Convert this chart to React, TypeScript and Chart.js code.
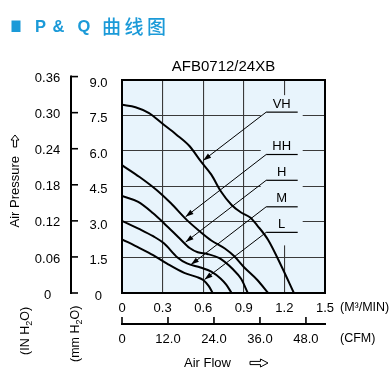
import React, { useEffect, useRef } from 'react';
import { Chart, registerables } from 'chart.js';

Chart.register(...registerables);

// ---- data ----
const flowTicks = [0, 0.3, 0.6, 0.9, 1.2, 1.5];
const pressureTicks = [0, 1.5, 3, 4.5, 6, 7.5, 9];
const inchTicks = [0, 0.06, 0.12, 0.18, 0.24, 0.3, 0.36];
const cfmTicks = [0, 12, 24, 36, 48];

const MM_PER_INCH = 25.4;
const CFM_PER_CMM = 35.3147;
const FLOW_MAX = 1.5;
const PRESSURE_MAX = 9;

const curveNames = ['VH', 'HH', 'H', 'M', 'L'];

const vhFlow = [0, 0.1, 0.2, 0.3, 0.4, 0.5, 0.58, 0.66, 0.73, 0.81, 0.88, 0.95, 1.0, 1.08, 1.18, 1.27];
const vhPressure = [7.95, 7.85, 7.6, 7.15, 6.7, 6.2, 5.58, 5.0, 4.3, 3.72, 3.4, 3.18, 2.85, 2.24, 1.11, 0];

const hhFlow = [0, 0.13, 0.26, 0.36, 0.48, 0.58, 0.66, 0.76, 0.83, 0.9, 1.0, 1.08];
const hhPressure = [5.4, 4.9, 4.33, 3.8, 3.08, 2.58, 2.22, 1.88, 1.55, 1.1, 0.55, 0];

const hFlow = [0, 0.12, 0.23, 0.31, 0.43, 0.5, 0.56, 0.63, 0.72, 0.82, 0.88, 0.93];
const hPressure = [4.1, 3.85, 3.37, 2.95, 2.28, 1.9, 1.72, 1.65, 1.47, 1.0, 0.6, 0];

const mFlow = [0, 0.13, 0.23, 0.31, 0.41, 0.48, 0.58, 0.66, 0.73, 0.77, 0.81];
const mPressure = [3.05, 2.7, 2.4, 2.1, 1.5, 1.25, 1.08, 0.9, 0.6, 0.35, 0];

const lFlow = [0, 0.13, 0.23, 0.33, 0.46, 0.55, 0.6, 0.64, 0.67];
const lPressure = [2.27, 1.9, 1.6, 1.25, 0.85, 0.68, 0.55, 0.3, 0];

const seriesFlow = [vhFlow, hhFlow, hFlow, mFlow, lFlow];
const seriesPressure = [vhPressure, hhPressure, hPressure, mPressure, lPressure];

// curve name labels and leader arrow targets (data units)
const labelFlow = 1.18;
const labelPressure = [7.98, 6.19, 5.1, 3.98, 2.9];
const arrowFlow = [0.6, 0.47, 0.47, 0.51, 0.61];
const arrowPressure = [5.6, 3.22, 2.15, 1.2, 0.57];

const headerTitle = ['P', '&', 'Q'];
const headerCjk = '曲线图';
const modelTitle = 'AFB0712/24XB';

// ---- styles ----
const FONT = '"Liberation Sans", Arial, Helvetica, sans-serif';
const PLOT_BG = '#e8f4fc';
const BLUE = '#1b9ad8';
const GRID = '#3a3a3a';

const fmt1 = (v: number) => (v === 0 ? '0' : v.toFixed(1));
const fmt2 = (v: number) => (v === 0 ? '0' : v.toFixed(2));

function hollowArrow(ctx: CanvasRenderingContext2D, len: number, h: number) {
  const head = len * 0.42;
  const sh = h * 0.2;
  ctx.beginPath();
  ctx.moveTo(0, -sh);
  ctx.lineTo(len - head, -sh);
  ctx.lineTo(len - head, -h / 2);
  ctx.lineTo(len, 0);
  ctx.lineTo(len - head, h / 2);
  ctx.lineTo(len - head, sh);
  ctx.lineTo(0, sh);
  ctx.closePath();
  ctx.fillStyle = '#fff';
  ctx.fill();
  ctx.lineWidth = 1;
  ctx.strokeStyle = '#000';
  ctx.stroke();
}

const extras = {
  id: 'extras',
  beforeDraw(chart: any) {
    const { ctx, chartArea: a } = chart;
    ctx.save();
    ctx.fillStyle = '#fff';
    ctx.fillRect(0, 0, chart.width, chart.height);
    ctx.fillStyle = PLOT_BG;
    ctx.fillRect(a.left, a.top, a.right - a.left, a.bottom - a.top);
    ctx.restore();
  },
  beforeDatasetsDraw(chart: any) {
    const { ctx, scales } = chart;
    const xs = scales.x;
    const ys = scales.y;
    const cx = xs.getPixelForValue(labelFlow);
    const top = ys.getPixelForValue(labelPressure[0]) - 9;
    const bottom = ys.getPixelForValue(labelPressure[labelPressure.length - 1]) + 21;
    ctx.save();
    ctx.fillStyle = PLOT_BG;
    ctx.fillRect(cx - 21, top, 42, bottom - top);
    ctx.restore();
  },
  afterDraw(chart: any) {
    const { ctx, chartArea: a, scales } = chart;
    const xs = scales.x;
    const ys = scales.y;
    const xc = scales.xCfm;
    ctx.save();

    // plot frame
    ctx.strokeStyle = '#000';
    ctx.lineWidth = 2;
    ctx.strokeRect(a.left, a.top, a.right - a.left, a.bottom - a.top);

    // curve labels with leaders
    ctx.font = `13px ${FONT}`;
    ctx.fillStyle = '#000';
    ctx.textAlign = 'center';
    ctx.textBaseline = 'middle';
    const lx = xs.getPixelForValue(labelFlow);
    curveNames.forEach((name, i) => {
      const ly = ys.getPixelForValue(labelPressure[i]);
      ctx.fillStyle = '#000';
      ctx.fillText(name, lx, ly);
      const uy = ly + 8;
      const sx = lx - 15.5;
      ctx.lineWidth = 1.2;
      ctx.beginPath();
      ctx.moveTo(sx, uy);
      ctx.lineTo(lx + 16, uy);
      ctx.stroke();
      const tx = xs.getPixelForValue(arrowFlow[i]);
      const ty = ys.getPixelForValue(arrowPressure[i]);
      ctx.lineWidth = 1;
      ctx.beginPath();
      ctx.moveTo(sx, uy);
      ctx.lineTo(tx, ty);
      ctx.stroke();
      const ang = Math.atan2(ty - uy, tx - sx);
      const L = 8;
      const W = 2.6;
      const c = Math.cos(ang);
      const s = Math.sin(ang);
      ctx.beginPath();
      ctx.moveTo(tx, ty);
      ctx.lineTo(tx - L * c + W * s, ty - L * s - W * c);
      ctx.lineTo(tx - L * c - W * s, ty - L * s + W * c);
      ctx.closePath();
      ctx.fill();
    });

    // inch (IN H2O) axis
    const inchX = a.left - 51;
    const y0 = ys.getPixelForValue(0);
    const yTop = ys.getPixelForValue(inchTicks[inchTicks.length - 1] * MM_PER_INCH);
    ctx.lineWidth = 2;
    ctx.beginPath();
    ctx.moveTo(inchX, yTop - 1);
    ctx.lineTo(inchX, y0 + 1);
    ctx.stroke();
    ctx.font = `13px ${FONT}`;
    ctx.textAlign = 'center';
    ctx.textBaseline = 'middle';
    inchTicks.forEach((v) => {
      const py = ys.getPixelForValue(v * MM_PER_INCH);
      ctx.lineWidth = 1.6;
      ctx.beginPath();
      ctx.moveTo(inchX, py);
      ctx.lineTo(inchX + 7, py);
      ctx.stroke();
      ctx.fillText(fmt2(v), a.left - 74.5, py + 2);
    });

    // CFM axis line + upward ticks
    const cfmY = a.bottom + 31;
    ctx.lineWidth = 2;
    ctx.beginPath();
    ctx.moveTo(xc.getPixelForValue(0) - 1, cfmY);
    ctx.lineTo(a.right + 1, cfmY);
    ctx.stroke();
    cfmTicks.forEach((v) => {
      const px = xc.getPixelForValue(v);
      ctx.lineWidth = 1.6;
      ctx.beginPath();
      ctx.moveTo(px, cfmY);
      ctx.lineTo(px, cfmY - 7);
      ctx.stroke();
    });

    // unit labels on the right
    ctx.textAlign = 'left';
    ctx.font = `12.5px ${FONT}`;
    ctx.fillText('(M³/MIN)', a.right + 15, a.bottom + 15);
    ctx.fillText('(CFM)', a.right + 15, a.bottom + 46);

    // Air Flow title
    ctx.font = `13px ${FONT}`;
    const cxMid = (a.left + a.right) / 2;
    const afY = a.bottom + 70;
    const afX = cxMid - 39.5;
    ctx.fillText('Air Flow', afX, afY);
    ctx.save();
    ctx.translate(afX + 66, afY);
    hollowArrow(ctx, 18, 8);
    ctx.restore();

    // Air Pressure title (rotated)
    ctx.save();
    ctx.translate(15, (a.top + a.bottom) / 2 + 41);
    ctx.rotate(-Math.PI / 2);
    ctx.fillStyle = '#000';
    ctx.font = `13px ${FONT}`;
    ctx.textAlign = 'left';
    ctx.textBaseline = 'middle';
    ctx.fillText('Air Pressure', 0, 0);
    const apw = ctx.measureText('Air Pressure').width;
    ctx.translate(apw + 9, 0);
    hollowArrow(ctx, 12, 8);
    ctx.restore();

    // rotated unit labels (IN H2O), (mm H2O)
    const drawUnit = (x: number, y: number, pre: string) => {
      ctx.save();
      ctx.translate(x, y);
      ctx.rotate(-Math.PI / 2);
      ctx.fillStyle = '#000';
      ctx.textAlign = 'left';
      ctx.textBaseline = 'middle';
      ctx.font = `12.5px ${FONT}`;
      ctx.fillText(pre, 0, 0);
      let w = ctx.measureText(pre).width;
      ctx.font = `9px ${FONT}`;
      ctx.fillText('2', w, 4);
      w += ctx.measureText('2').width;
      ctx.font = `12.5px ${FONT}`;
      ctx.fillText('O)', w, 0);
      ctx.restore();
    };
    drawUnit(a.left - 96, a.bottom + 62, '(IN H');
    drawUnit(a.left - 46, a.bottom + 69, '(mm H');

    // model title
    ctx.fillStyle = '#000';
    ctx.font = `15px ${FONT}`;
    ctx.textAlign = 'center';
    ctx.textBaseline = 'middle';
    ctx.fillText(modelTitle, cxMid, a.top - 13);

    // header
    ctx.fillStyle = BLUE;
    ctx.fillRect(11.5, 20.5, 9, 11.5);
    ctx.font = `bold 16.5px ${FONT}`;
    ctx.textAlign = 'left';
    ctx.textBaseline = 'alphabetic';
    const hx = [35, 52.5, 77.4];
    headerTitle.forEach((t, i) => ctx.fillText(t, hx[i], 32));
    ctx.font = `500 19px "Noto Sans CJK SC", sans-serif`;
    (ctx as any).letterSpacing = '3.5px';
    ctx.fillText(headerCjk, 102, 34);
    (ctx as any).letterSpacing = '0px';

    ctx.restore();
  },
};

export default function App() {
  const ref = useRef<HTMLCanvasElement | null>(null);

  useEffect(() => {
    if (!ref.current) return;
    const tickFont = { size: 13, family: FONT };
    const chart = new Chart(ref.current, {
      type: 'line',
      data: {
        datasets: curveNames.map((name, i) => ({
          label: name,
          data: seriesFlow[i].map((f, j) => ({ x: f, y: seriesPressure[i][j] })),
          borderColor: '#000',
          backgroundColor: '#000',
          borderWidth: 2,
          pointRadius: 0,
          fill: false,
          cubicInterpolationMode: 'monotone' as const,
          xAxisID: 'x',
          yAxisID: 'y',
        })),
      },
      options: {
        animation: false,
        responsive: false,
        events: [],
        layout: { padding: { top: 80, right: 64, bottom: 0, left: 0 } },
        plugins: {
          legend: { display: false },
          tooltip: { enabled: false },
          title: { display: false },
        },
        scales: {
          x: {
            type: 'linear',
            position: 'bottom',
            weight: 0,
            min: 0,
            max: FLOW_MAX,
            afterBuildTicks: (s: any) => {
              s.ticks = flowTicks.map((value) => ({ value }));
            },
            afterFit: (s: any) => {
              s.height = 24;
            },
            ticks: {
              color: '#000',
              font: tickFont,
              padding: 7.2,
              maxRotation: 0,
              autoSkip: false,
              callback: (v: any) => fmt1(Number(v)),
            },
            grid: { color: GRID, lineWidth: 1.1, drawTicks: false },
            border: { display: false },
          },
          xCfm: {
            type: 'linear',
            position: 'bottom',
            weight: 1,
            min: 0,
            max: FLOW_MAX * CFM_PER_CMM,
            afterBuildTicks: (s: any) => {
              s.ticks = cfmTicks.map((value) => ({ value }));
            },
            afterFit: (s: any) => {
              s.height = 59;
            },
            ticks: {
              color: '#000',
              font: tickFont,
              padding: 14.2,
              maxRotation: 0,
              autoSkip: false,
              callback: (v: any) => fmt1(Number(v)),
            },
            grid: { display: false, drawTicks: false },
            border: { display: false },
          },
          y: {
            type: 'linear',
            position: 'left',
            min: 0,
            max: PRESSURE_MAX,
            afterBuildTicks: (s: any) => {
              s.ticks = pressureTicks.map((value) => ({ value }));
            },
            afterFit: (s: any) => {
              s.width = 122;
            },
            ticks: {
              color: '#000',
              font: tickFont,
              padding: 14.5,
              crossAlign: 'center',
              labelOffset: 3,
              autoSkip: false,
              callback: (v: any) => fmt1(Number(v)),
            },
            grid: { color: GRID, lineWidth: 1.1, drawTicks: false },
            border: { display: false },
          },
        },
      } as any,
      plugins: [extras],
    });
    return () => chart.destroy();
  }, []);

  return (
    <div style={{ position: 'fixed', left: 0, top: 0, width: 389, height: 376, background: '#fff' }}>
      <canvas ref={ref} width={389} height={376} style={{ display: 'block' }} />
    </div>
  );
}
